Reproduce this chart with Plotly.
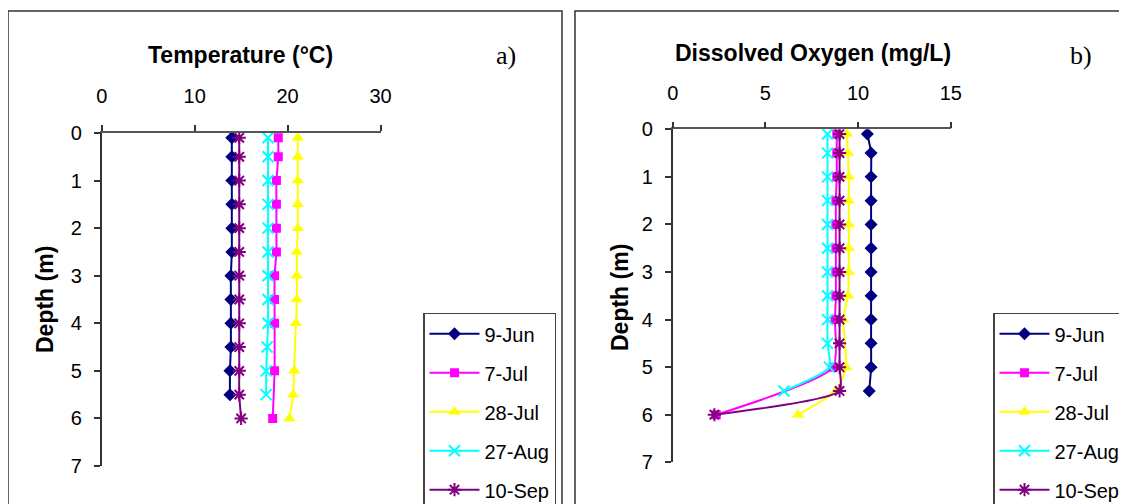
import plotly.graph_objects as go

W, H = 1127, 504
OFF = 8  # the page body adds an 8px margin around the figure

# ---------------- data ----------------
dates = ["9-Jun", "7-Jul", "28-Jul", "27-Aug", "10-Sep"]

depth_jun9 = [0.1, 0.5, 1.0, 1.5, 2.0, 2.5, 3.0, 3.5, 4.0, 4.5, 5.0, 5.5]
depth_jul7 = [0.1, 0.5, 1.0, 1.5, 2.0, 2.5, 3.0, 3.5, 4.0, 5.0, 6.0]
depth_jul28 = [0.1, 0.5, 1.0, 1.5, 2.0, 2.5, 3.0, 3.5, 4.0, 5.0, 5.5, 6.0]
depth_aug27 = [0.1, 0.5, 1.0, 1.5, 2.0, 2.5, 3.0, 3.5, 4.0, 4.5, 5.0, 5.5]
depth_sep10 = [0.1, 0.5, 1.0, 1.5, 2.0, 2.5, 3.0, 3.5, 4.0, 4.5, 5.0, 5.5, 6.0]

temp_jun9 = [14.0, 14.0, 14.0, 14.0, 14.0, 14.0, 13.9, 13.9, 13.9, 13.9, 13.8, 13.8]
temp_jul7 = [19.0, 19.0, 18.8, 18.8, 18.8, 18.8, 18.6, 18.6, 18.6, 18.6, 18.4]
temp_jul28 = [21.1, 21.1, 21.1, 21.1, 21.1, 21.0, 21.0, 21.0, 20.9, 20.7, 20.6, 20.2]
temp_aug27 = [17.9, 17.9, 17.9, 17.9, 17.9, 17.9, 17.9, 17.9, 17.9, 17.8, 17.7, 17.7]
temp_sep10 = [14.8, 14.8, 14.8, 14.8, 14.8, 14.8, 14.8, 14.8, 14.8, 14.8, 14.8, 14.8, 15.0]

do_jun9 = [10.5, 10.7, 10.7, 10.7, 10.7, 10.7, 10.7, 10.7, 10.7, 10.7, 10.7, 10.6]
do_jul7 = [8.85, 8.85, 8.85, 8.8, 8.8, 8.8, 8.8, 8.8, 8.75, 8.65, 2.35]
do_jul28 = [9.4, 9.45, 9.5, 9.5, 9.5, 9.5, 9.5, 9.45, 9.2, 9.35, 8.8, 6.75]
do_aug27 = [8.35, 8.35, 8.35, 8.35, 8.35, 8.35, 8.35, 8.35, 8.35, 8.35, 8.45, 6.0]
do_sep10 = [9.0, 9.0, 9.0, 9.0, 9.0, 9.0, 9.0, 9.0, 9.0, 9.0, 9.0, 9.0, 2.25]

temp_ticks = [0, 10, 20, 30]
do_ticks = [0, 5, 10, 15]
depth_ticks = [0, 1, 2, 3, 4, 5, 6, 7]

# ---------------- styles ----------------
colors = ["#000080", "#FF00FF", "#FFFF00", "#00FFFF", "#800080"]
symbols = ["diamond", "square", "triangle-up", "x-thin", "asterisk"]
msizes = [10, 9, 11, 11, 11]
FONT = "Liberation Sans, Arial, sans-serif"
SERIF = "Liberation Serif, Times New Roman, serif"

depths = [depth_jun9, depth_jul7, depth_jul28, depth_aug27, depth_sep10]
temps = [temp_jun9, temp_jul7, temp_jul28, temp_aug27, temp_sep10]
dos = [do_jun9, do_jul7, do_jul28, do_aug27, do_sep10]


def px(x):
    return (x - OFF) / W


def py(y):
    return 1 - (y - OFF) / H


fig = go.Figure()


def add_series(xvals_list, xa, ya, leg, prefix):
    for i, name in enumerate(dates):
        open_sym = symbols[i] in ("x-thin", "asterisk")
        marker = dict(
            symbol=symbols[i], size=msizes[i], color=colors[i],
            line=dict(color=colors[i], width=2 if open_sym else 0),
        )
        fig.add_trace(go.Scatter(
            x=xvals_list[i], y=depths[i], mode="lines+markers", name=name,
            line=dict(color=colors[i], width=2, shape="spline", smoothing=0.6),
            marker=marker, xaxis=xa, yaxis=ya, legend=leg,
            legendgroup=prefix + name,
        ))


add_series(temps, "x", "y", "legend", "a")
add_series(dos, "x2", "y2", "legend2", "b")

xcommon = dict(
    side="top", showline=True, linecolor="#555555", linewidth=1.5,
    ticks="outside", ticklen=6, tickcolor="#333333", tickwidth=1.5,
    showgrid=False, zeroline=False, ticklabelstandoff=14,
    tickfont=dict(family=FONT, size=20, color="black"),
)
ycommon = dict(
    range=[7, 0], showline=True, linecolor="#333333", linewidth=1.5,
    ticks="outside", ticklen=6, tickcolor="#333333", tickwidth=1.5,
    showgrid=False, zeroline=False, tickvals=depth_ticks, ticklabelstandoff=8,
    tickfont=dict(family=FONT, size=20, color="black"),
)

legend_common = dict(
    xanchor="left", yanchor="top", bgcolor="white",
    bordercolor="#444444", borderwidth=1.5,
    font=dict(family=FONT, size=20, color="black"),
    tracegroupgap=10, itemwidth=50,
)


def label(text, x, y, font, angle=0):
    return dict(text=text, xref="paper", yref="paper", x=px(x), y=py(y),
                xanchor="center", yanchor="middle", showarrow=False,
                textangle=angle, font=font)


title_font = dict(family=FONT, size=23, color="black")
serif_font = dict(family=SERIF, size=26, color="black")

fig.update_layout(
    width=W, height=H,
    margin=dict(l=0, r=0, t=0, b=0, autoexpand=False),
    paper_bgcolor="white", plot_bgcolor="white",
    showlegend=True,
    xaxis=dict(xcommon, domain=[px(101.7), px(380.5)], range=[0, 30],
               tickvals=temp_ticks, anchor="y"),
    yaxis=dict(ycommon, domain=[py(466), py(133)], anchor="x"),
    xaxis2=dict(xcommon, domain=[px(672.7), px(950.8)], range=[0, 15],
                tickvals=do_ticks, anchor="y2"),
    yaxis2=dict(ycommon, domain=[py(462.3), py(129.3)], anchor="x2"),
    legend=dict(legend_common, x=px(423), y=py(312.7)),
    legend2=dict(legend_common, x=px(993), y=py(312.7)),
    shapes=[
        dict(type="rect", xref="paper", yref="paper",
             x0=px(8), x1=px(562), y0=-0.2, y1=py(11),
             line=dict(color="#333333", width=1.5)),
        dict(type="rect", xref="paper", yref="paper",
             x0=px(575), x1=1.2, y0=-0.2, y1=py(11),
             line=dict(color="#333333", width=1.5)),
    ],
    annotations=[
        label("<b>Temperature (°C)</b>", 240, 55, title_font),
        label("a)", 506, 55, serif_font),
        label("<b>Dissolved Oxygen (mg/L)</b>", 813, 53, title_font),
        label("b)", 1081, 55, serif_font),
        label("<b>Depth (m)</b>", 45, 300, title_font, -90),
        label("<b>Depth (m)</b>", 620, 297, title_font, -90),
    ],
)

fig.write_html("out.html")
